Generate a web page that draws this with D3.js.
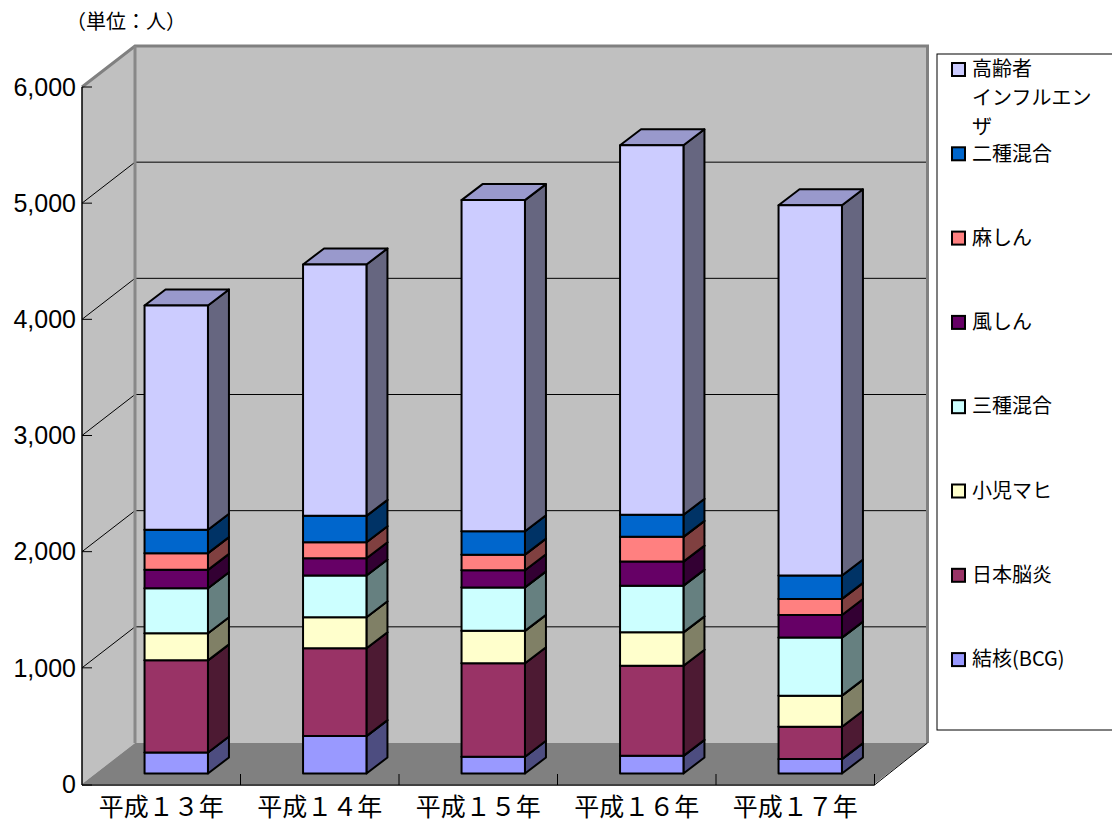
<!DOCTYPE html>
<html>
<head>
<meta charset="utf-8">
<script src="https://cdn.jsdelivr.net/npm/d3@7"></script>
<style>
  body { margin: 0; background: #fff; }
  svg { display: block; }
</style>
</head>
<body>
<script>
// Data
const YEARS = ['平成１３年', '平成１４年', '平成１５年', '平成１６年', '平成１７年']
const SERIES = ['結核(BCG)', '日本脳炎', '小児マヒ', '三種混合', '風しん', '麻しん', '二種混合', '高齢者インフルエンザ']
const BCG = [181, 322, 144, 152, 124]
const NOUEN = [793, 756, 805, 776, 279]
const MAHI = [233, 267, 279, 287, 267]
const SANSHU = [388, 359, 374, 402, 500]
const FUUSHIN = [158, 149, 147, 207, 195]
const MASHIN = [144, 138, 135, 213, 138]
const NISHU = [201, 227, 201, 190, 201]
const INFLU = [1931, 2164, 2851, 3181, 3187]
const Y_TICKS = [0, 1000, 2000, 3000, 4000, 5000, 6000]
const LEGEND_LINES = {
  '高齢者インフルエンザ': ['高齢者', 'インフルエン', 'ザ']
}
const FRONT = ['#9999FF', '#993366', '#FFFFCC', '#CCFFFF', '#660066', '#FF8080', '#0066CC', '#CCCCFF']
const SIDE = ['#4D4D80', '#4D1A33', '#808066', '#668080', '#330033', '#804040', '#003366', '#666680']
const TOP = ['#7A7ACC', '#7A2952', '#CCCCA3', '#A3CCCC', '#520052', '#CC6666', '#0052A3', '#9999CC']

const VALUES = [BCG, NOUEN, MAHI, SANSHU, FUUSHIN, MASHIN, NISHU, INFLU]
const table = YEARS.map((year, i) => {
  const row = { year }
  SERIES.forEach((s, k) => { row[s] = VALUES[k][i] })
  return row
})

// Layout
const width = 1112
const height = 822
const left = 82
const right = 874.5
const DX = 53, DY = -41      // wall depth
const BX = 15, BY = -10.5    // bar front plane
const BDX = 21, BDY = -16    // bar depth

const svg = d3.select('body').append('svg')
  .attr('width', width)
  .attr('height', height)
  .style('font-family', '"Noto Sans CJK JP", "Liberation Sans", sans-serif')

const y = d3.scaleLinear().domain([0, 6000]).range([784, 87])
const x = d3.scaleBand().domain(YEARS).range([left, right])

// Walls
svg.append('polygon')
  .attr('points', [[left, y(6000)], [left + DX, y(6000) + DY], [left + DX, y(0) + DY], [left, y(0)]].join(' '))
  .attr('fill', '#c0c0c0')

svg.append('rect')
  .attr('x', left + DX)
  .attr('y', y(6000) + DY)
  .attr('width', right - left)
  .attr('height', y(0) - y(6000))
  .attr('fill', '#c0c0c0')

// Floor
svg.append('polygon')
  .attr('points', [[left, y(0)], [left + DX, y(0) + DY], [right + DX, y(0) + DY], [right, y(0)]].join(' '))
  .attr('fill', '#808080')

// Gridlines
const grid = svg.append('g')
grid.selectAll('line.back')
  .data(Y_TICKS.slice(1, -1))
  .enter()
  .append('line')
  .attr('x1', left + DX)
  .attr('x2', right + DX)
  .attr('y1', d => y(d) + DY)
  .attr('y2', d => y(d) + DY)
  .attr('stroke', '#000')
  .attr('stroke-width', 1)
grid.selectAll('line.side')
  .data(Y_TICKS.slice(1, -1))
  .enter()
  .append('line')
  .attr('x1', left)
  .attr('x2', left + DX)
  .attr('y1', d => y(d))
  .attr('y2', d => y(d) + DY)
  .attr('stroke', '#000')
  .attr('stroke-width', 1)

// Wall edges
svg.append('polyline')
  .attr('points', [[left, y(6000)], [left + DX, y(6000) + DY], [right + DX, y(6000) + DY], [right + DX, y(0) + DY]].join(' '))
  .attr('fill', 'none')
  .attr('stroke', '#808080')
  .attr('stroke-width', 3)
svg.append('line')
  .attr('x1', left + DX).attr('x2', left + DX)
  .attr('y1', y(6000) + DY).attr('y2', y(0) + DY)
  .attr('stroke', '#888')
  .attr('stroke-width', 3)

// Axes
svg.append('line')
  .attr('x1', left).attr('x2', left)
  .attr('y1', y(6000)).attr('y2', y(0) + 1)
  .attr('stroke', '#000')
  .attr('stroke-width', 1.5)
svg.append('line')
  .attr('x1', left).attr('x2', right)
  .attr('y1', y(0) + 1).attr('y2', y(0) + 1)
  .attr('stroke', '#000')
  .attr('stroke-width', 1.5)
svg.append('line')
  .attr('x1', right).attr('x2', right + DX)
  .attr('y1', y(0) + 1).attr('y2', y(0) + DY)
  .attr('stroke', '#000')
  .attr('stroke-width', 1)

// Y ticks
svg.selectAll('line.ytick')
  .data(Y_TICKS)
  .enter()
  .append('line')
  .attr('x1', left)
  .attr('x2', left + 10)
  .attr('y1', d => y(d) + (d === 0 ? 1 : 0))
  .attr('y2', d => y(d) + (d === 0 ? 1 : 0))
  .attr('stroke', '#000')
  .attr('stroke-width', 1)

svg.selectAll('text.ytick')
  .data(Y_TICKS)
  .enter()
  .append('text')
  .attr('x', left - 6)
  .attr('y', d => y(d))
  .attr('dy', '0.35em')
  .attr('text-anchor', 'end')
  .style('font-family', '"Liberation Sans", Arial, sans-serif')
  .style('font-size', '25px')
  .text(d => d3.format(',')(d))

// Category ticks and labels
svg.selectAll('line.xtick')
  .data(YEARS.slice(1).map(d => x(d)).concat([right]))
  .enter()
  .append('line')
  .attr('x1', d => d).attr('x2', d => d)
  .attr('y1', y(0) + 1).attr('y2', y(0) - 10)
  .attr('stroke', '#000')
  .attr('stroke-width', 1)

svg.selectAll('text.xlabel')
  .data(YEARS)
  .enter()
  .append('text')
  .attr('x', d => x(d) + x.bandwidth() / 2)
  .attr('y', 816)
  .attr('text-anchor', 'middle')
  .style('font-size', '25px')
  .text(d => d)

// Bars
const stack = d3.stack().keys(SERIES)(table)
const barW = x.bandwidth() * 0.4
const bars = svg.append('g')

YEARS.forEach((year, i) => {
  const x0 = x(year) + x.bandwidth() * 0.3 + BX
  const x1 = x0 + barW
  stack.forEach((layer, k) => {
    const yb = y(layer[i][0]) + BY
    const yt = y(layer[i][1]) + BY
    const g = bars.append('g')
      .attr('stroke', '#000')
      .attr('stroke-width', 2)
      .attr('stroke-linejoin', 'round')
    g.append('polygon')
      .attr('points', [[x1, yt], [x1 + BDX, yt + BDY], [x1 + BDX, yb + BDY], [x1, yb]].join(' '))
      .attr('fill', SIDE[k])
    g.append('polygon')
      .attr('points', [[x0, yt], [x1, yt], [x1 + BDX, yt + BDY], [x0 + BDX, yt + BDY]].join(' '))
      .attr('fill', TOP[k])
    g.append('rect')
      .attr('x', x0)
      .attr('y', yt)
      .attr('width', barW)
      .attr('height', yb - yt)
      .attr('fill', FRONT[k])
  })
})

// Unit label
svg.append('text')
  .attr('x', 66)
  .attr('y', 22)
  .attr('dy', '0.35em')
  .style('font-size', '20px')
  .text('（単位：人）')

// Legend
const legend = svg.append('g').attr('id', 'legend')
legend.append('rect')
  .attr('x', 937)
  .attr('y', 54)
  .attr('width', 180)
  .attr('height', 676)
  .attr('fill', '#fff')
  .attr('stroke', '#000')
  .attr('stroke-width', 1)

const legendItems = SERIES.map((s, k) => ({ name: s, k })).reverse()
legendItems.forEach((item, i) => {
  const cy = 70 + i * 84.3
  legend.append('rect')
    .attr('x', 952)
    .attr('y', cy - 7)
    .attr('width', 13)
    .attr('height', 13)
    .attr('fill', FRONT[item.k])
    .attr('stroke', '#000')
    .attr('stroke-width', 2)
  const lines = LEGEND_LINES[item.name] || [item.name]
  lines.forEach((line, j) => {
    legend.append('text')
      .attr('x', 972)
      .attr('y', cy - 1 + j * 29)
      .attr('dy', '0.36em')
      .style('font-size', '20px')
      .text(line)
  })
})
</script>
</body>
</html>
